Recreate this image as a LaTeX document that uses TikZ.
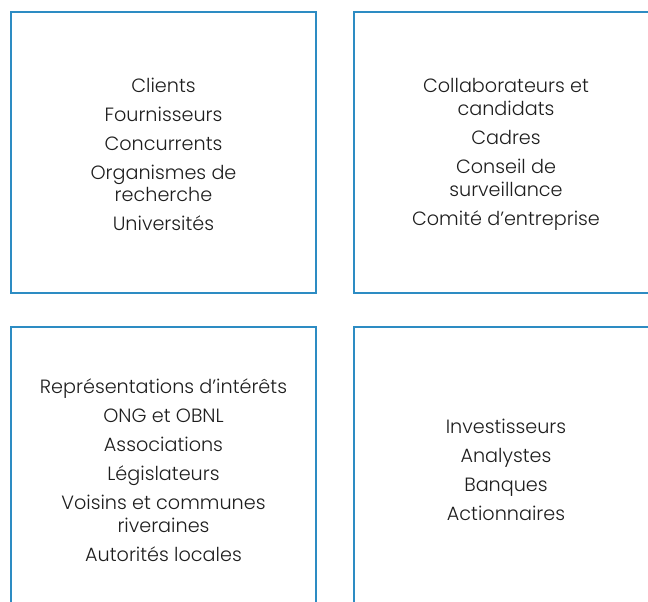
\documentclass[tikz,border=0pt]{standalone}
\usepackage{fontspec}
\setmainfont{Poppins Light}
\definecolor{boxblue}{RGB}{45,140,195}
\definecolor{textgray}{RGB}{30,30,30}
\begin{document}
\begin{tikzpicture}[x=1pt,y=-1pt,
  box/.style={draw=boxblue,line width=1.3pt,minimum width=304pt,minimum height=281pt,inner sep=0pt},
  list/.style={inner sep=0pt,align=center,font=\fontsize{19.2}{22.7}\selectfont,text=textgray}]
\useasboundingbox (0,0) rectangle (648,602);
\clip (0,0) rectangle (648,602);
\node[box,minimum width=305pt] (tl) at (163.5,152.5) {};
\node[box] (tr) at (506,152.5) {};
\node[box,minimum width=305pt] (bl) at (163.5,467.5) {};
\node[box] (br) at (506,467.5) {};
\node[list] (tltext) at ([yshift=-2pt]tl.center)
  {Clients\\[6.3pt]Fournisseurs\\[6.3pt]Concurrents\\[6.3pt]Organismes de\\recherche\\[6.3pt]Universités};
\node[list] (trtext) at ([yshift=-2pt]tr.center)
  {Collaborateurs et\\candidats\\[6.3pt]Cadres\\[6.3pt]Conseil de\\surveillance\\[6.3pt]Comité d’entreprise};
\node[list] (bltext) at ([yshift=-2.5pt]bl.center)
  {Représentations d’intérêts\\[6.3pt]ONG et OBNL\\[6.3pt]Associations\\[6.3pt]Législateurs\\[6.3pt]Voisins et communes\\riveraines\\[6.3pt]Autorités locales};
\node[list] (brtext) at ([yshift=-2pt]br.center)
  {Investisseurs\\[6.3pt]Analystes\\[6.3pt]Banques\\[6.3pt]Actionnaires};
\end{tikzpicture}
\end{document}
